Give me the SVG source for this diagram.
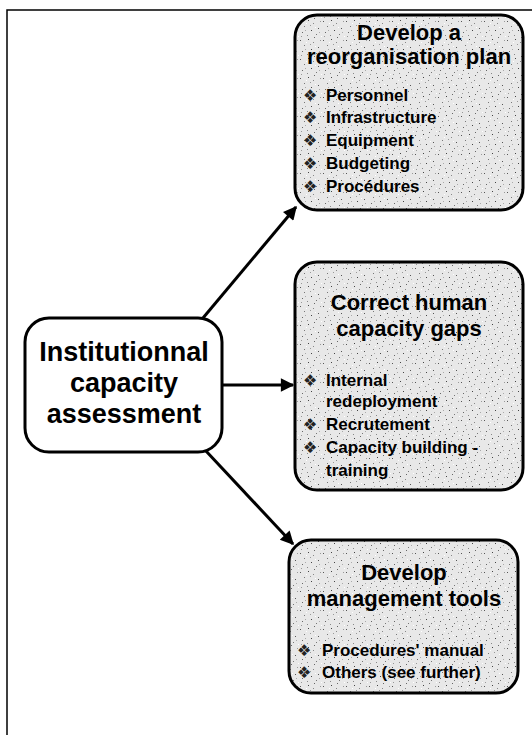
<svg xmlns="http://www.w3.org/2000/svg" width="532" height="735" viewBox="0 0 532 735">
<style>
.box{stroke:#000;stroke-width:3;fill:url(#stipple)}
.lbox{stroke:#000;stroke-width:3;fill:#fff}
.t{font-family:"Liberation Sans",Arial,sans-serif;font-weight:bold;fill:#000}
.title{font-size:22px;text-anchor:middle}
.item{font-size:17px}
.bul{font-family:"DejaVu Sans",sans-serif;font-size:16px;fill:#222}
.main{font-size:27px;text-anchor:middle}
.conn{stroke:#000;stroke-width:3;fill:none;marker-end:url(#ah)}
</style>
<defs>
<pattern id="stipple" width="23" height="19" patternUnits="userSpaceOnUse">
<rect width="23" height="19" fill="#e8e8e8"/>
<rect x="1" y="2" width="1" height="1" fill="#555"/>
<rect x="5" y="7" width="1" height="1" fill="#777"/>
<rect x="9" y="1" width="1" height="1" fill="#444"/>
<rect x="14" y="4" width="1" height="1" fill="#888"/>
<rect x="19" y="9" width="1" height="1" fill="#555"/>
<rect x="3" y="13" width="1" height="1" fill="#666"/>
<rect x="8" y="16" width="1" height="1" fill="#888"/>
<rect x="12" y="11" width="1" height="1" fill="#444"/>
<rect x="17" y="15" width="1" height="1" fill="#777"/>
<rect x="21" y="2" width="1" height="1" fill="#999"/>
<rect x="11" y="6" width="1" height="1" fill="#999"/>
<rect x="6" y="11" width="1" height="1" fill="#aaa"/>
<rect x="15" y="18" width="1" height="1" fill="#666"/>
<rect x="20" y="13" width="1" height="1" fill="#aaa"/>
<rect x="2" y="17" width="1" height="1" fill="#999"/>
<rect x="16" y="8" width="1" height="1" fill="#fff"/>
<rect x="7" y="4" width="1" height="1" fill="#fff"/>
<rect x="22" y="17" width="1" height="1" fill="#fff"/>
</pattern>
<marker id="ah" viewBox="0 0 10 10" refX="9" refY="5" markerWidth="5.5" markerHeight="4.5" orient="auto" markerUnits="strokeWidth">
<path d="M0,0 L10,5 L0,10 z" fill="#000"/>
</marker>
</defs>
<rect width="532" height="735" fill="#fff"/>
<path d="M7,735 V10 H532" fill="none" stroke="#000" stroke-width="1.5"/>

<g id="connectors">
<path class="conn" d="M203,318 L296,207"/>
<path class="conn" d="M222,385 L293,385"/>
<path class="conn" d="M206,451 L293,544"/>
</g>

<g id="assessment">
<rect class="lbox" x="25" y="318" width="197" height="134" rx="24"/>
<text class="t main" x="124" y="361">Institutionnal</text>
<text class="t main" x="124" y="392">capacity</text>
<text class="t main" x="124" y="423">assessment</text>
</g>

<g id="reorganisation">
<rect class="box" x="295" y="15" width="228" height="195" rx="22"/>
<text class="t title" x="409" y="40">Develop a</text>
<text class="t title" x="409" y="64">reorganisation plan</text>
<text class="bul" x="303" y="101">❖</text><text class="t item" x="326" y="101">Personnel</text>
<text class="bul" x="303" y="123">❖</text><text class="t item" x="326" y="123">Infrastructure</text>
<text class="bul" x="303" y="146">❖</text><text class="t item" x="326" y="146">Equipment</text>
<text class="bul" x="303" y="169">❖</text><text class="t item" x="326" y="169">Budgeting</text>
<text class="bul" x="303" y="192">❖</text><text class="t item" x="326" y="192">Procédures</text>
</g>

<g id="human">
<rect class="box" x="295" y="262" width="228" height="228" rx="22"/>
<text class="t title" x="409" y="310">Correct human</text>
<text class="t title" x="409" y="336">capacity gaps</text>
<text class="bul" x="303" y="386">❖</text><text class="t item" x="326" y="386">Internal</text>
<text class="t item" x="326" y="407">redeployment</text>
<text class="bul" x="303" y="430">❖</text><text class="t item" x="326" y="430">Recrutement</text>
<text class="bul" x="303" y="453">❖</text><text class="t item" x="326" y="453">Capacity building -</text>
<text class="t item" x="326" y="476">training</text>
</g>

<g id="tools">
<rect class="box" x="289" y="540" width="229" height="153" rx="22"/>
<text class="t title" x="404" y="580">Develop</text>
<text class="t title" x="404" y="606">management tools</text>
<text class="bul" x="297" y="656">❖</text><text class="t item" x="322" y="656">Procedures' manual</text>
<text class="bul" x="297" y="678">❖</text><text class="t item" x="322" y="678">Others (see further)</text>
</g>
</svg>
